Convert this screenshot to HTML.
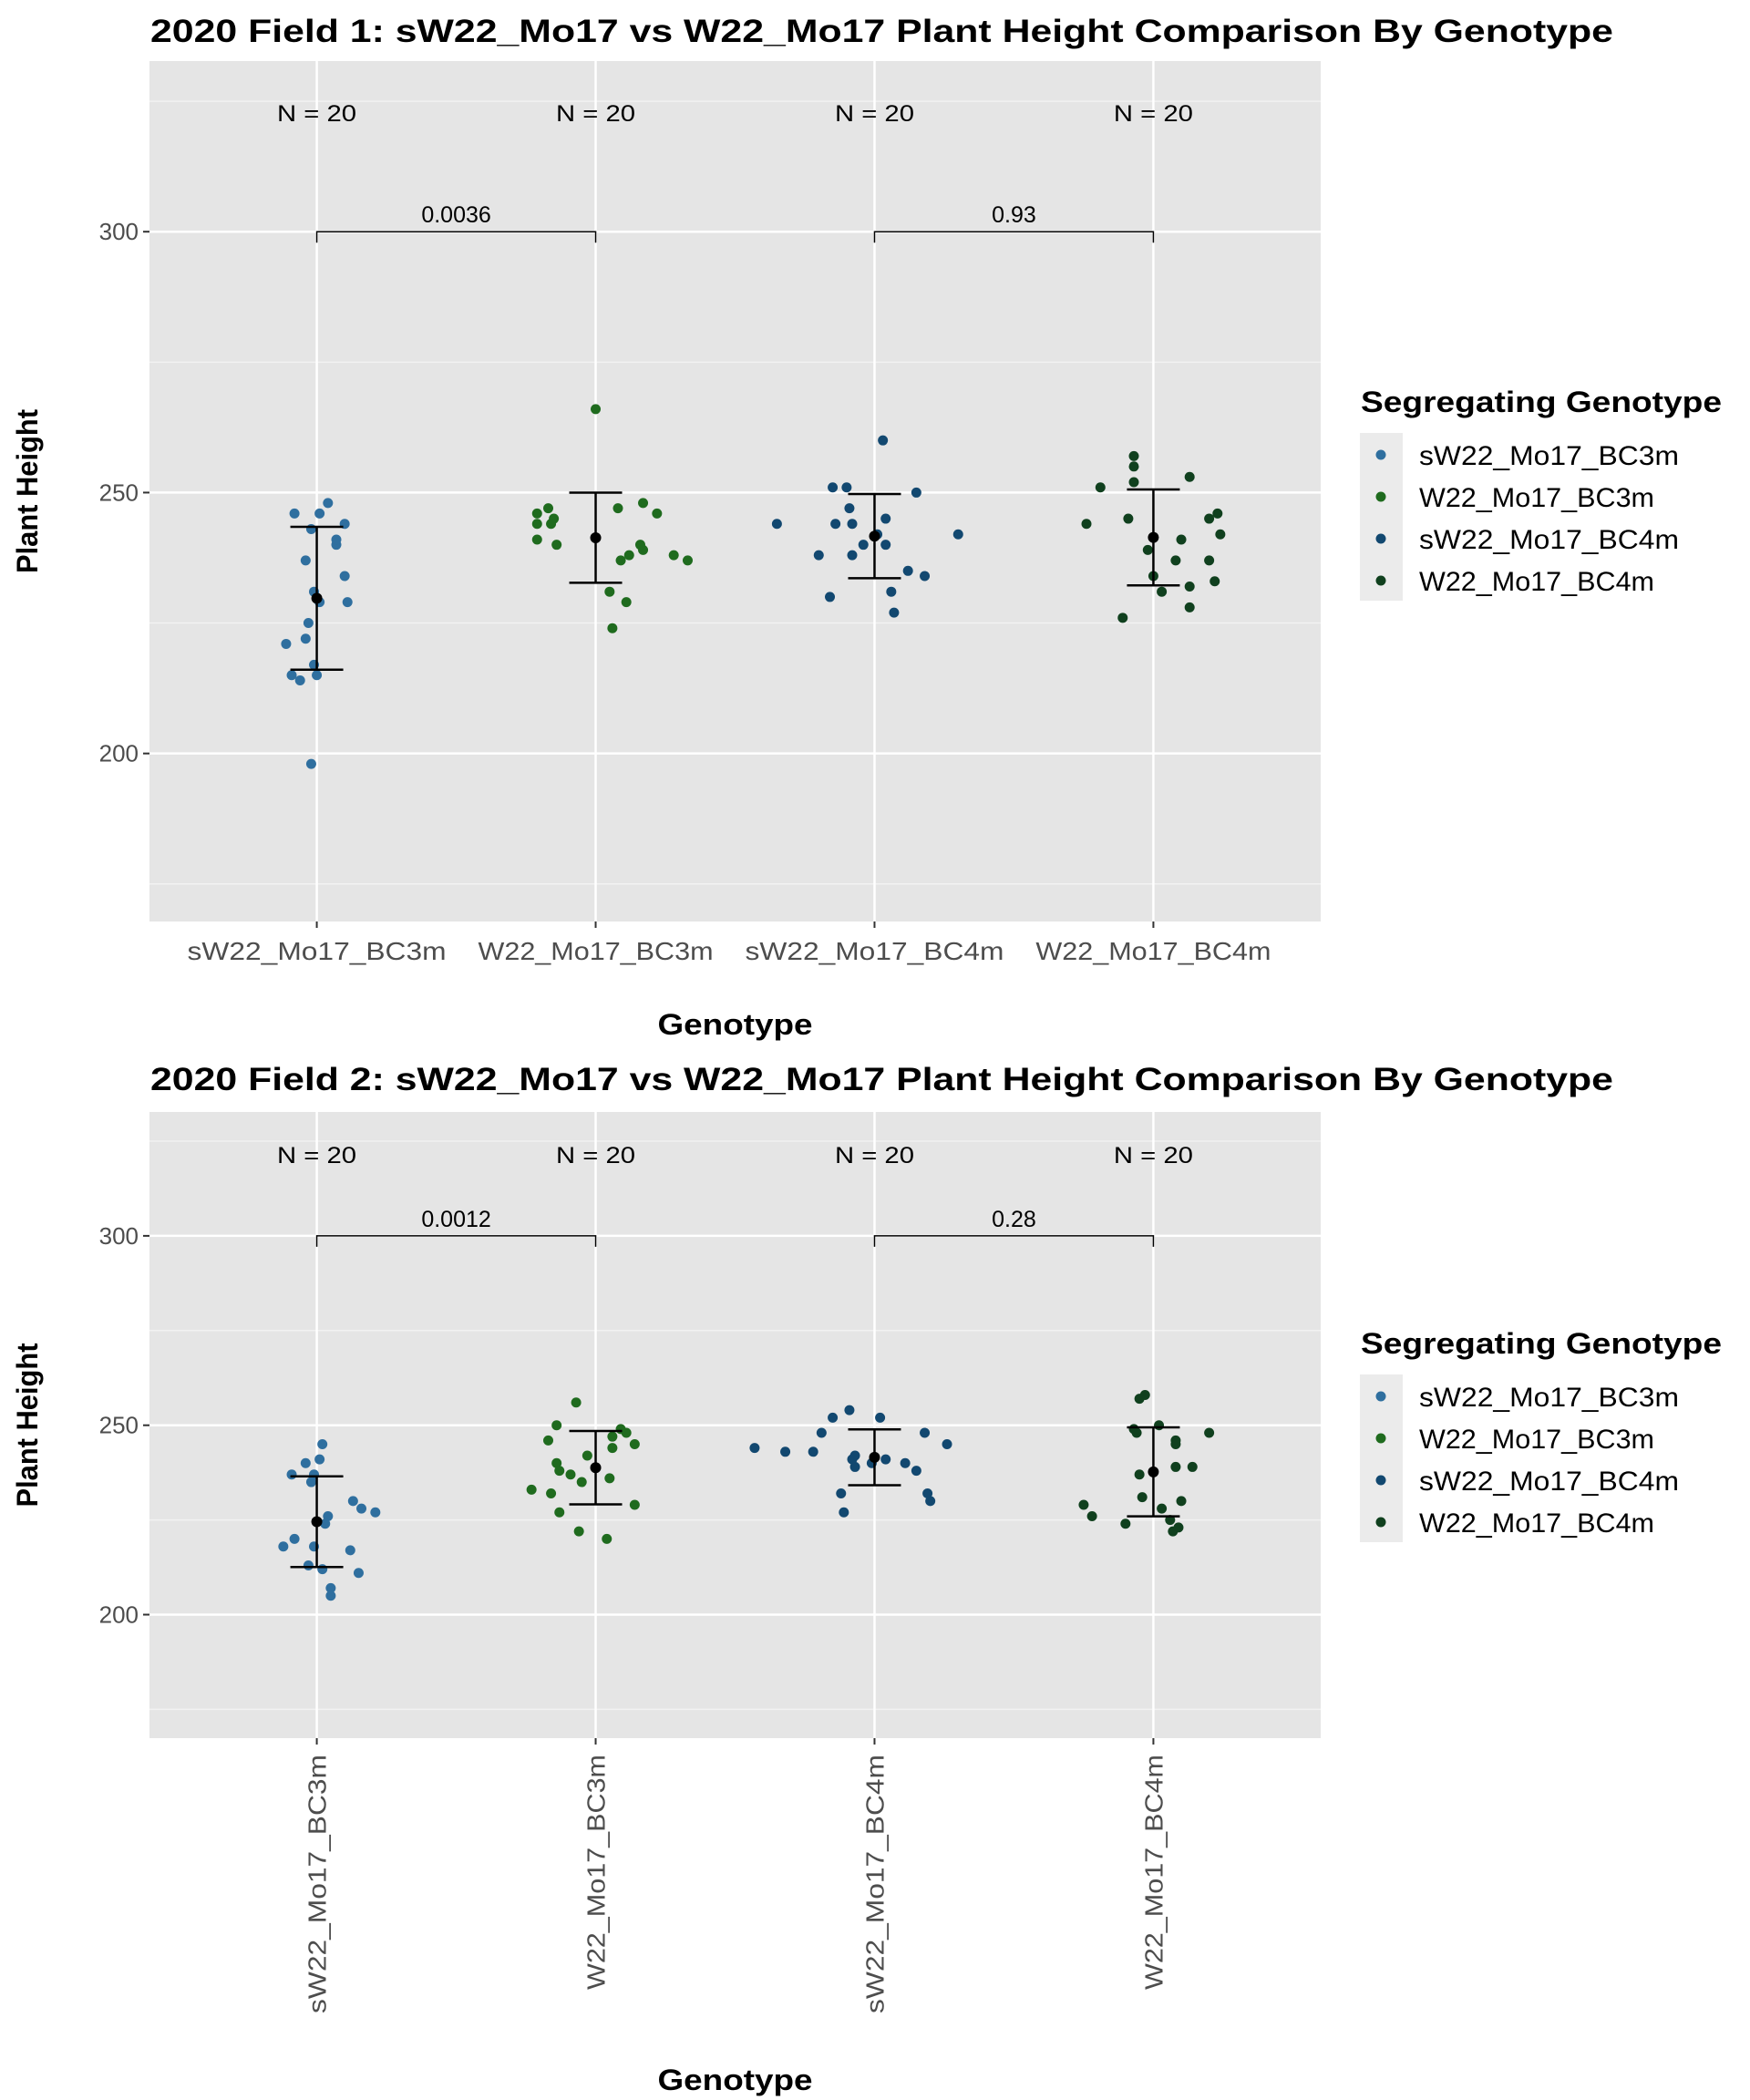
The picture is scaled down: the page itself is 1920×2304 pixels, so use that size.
<!DOCTYPE html>
<html><head><meta charset="utf-8"><style>
html,body{margin:0;padding:0;background:#fff;}
svg{display:block;font-family:"Liberation Sans",Arial,sans-serif;}
</style></head><body>
<svg id="chart" width="1920" height="2304" viewBox="0 0 1920 2304" xmlns="http://www.w3.org/2000/svg"></svg>
<script>
const categories = ["sW22_Mo17_BC3m","W22_Mo17_BC3m","sW22_Mo17_BC4m","W22_Mo17_BC4m"];
const colors = ["#2F6F9F","#1F6B1E","#124870","#10401E"];
const yTicks = [200,250,300];
const yMinor = [175,225,275,325];
const pvals1 = ["0.0036","0.93"];
const pvals2 = ["0.0012","0.28"];
const nLabels = ["N = 20","N = 20","N = 20","N = 20"];
// Field 1 values per genotype
const f1_g1 = [246,246,248,243,244,240,241,237,234,231,229,229,225,222,221,217,215,214,215,198];
const f1_g1j = [-0.08,0.01,0.04,-0.02,0.10,0.07,0.07,-0.04,0.10,-0.01,0.01,0.11,-0.03,-0.04,-0.11,-0.01,-0.09,-0.06,0.00,-0.02];
const f1_g2 = [266,247,246,244,245,241,240,247,248,246,239,240,238,237,238,237,231,229,224,244];
const f1_g2j = [0.00,-0.17,-0.21,-0.21,-0.15,-0.21,-0.14,0.08,0.17,0.22,0.17,0.16,0.12,0.09,0.28,0.33,0.05,0.11,0.06,-0.16];
const f1_g3 = [260,251,251,250,247,244,244,244,242,242,245,240,238,238,235,234,231,230,227,240];
const f1_g3j = [0.03,-0.15,-0.10,0.15,-0.09,-0.35,-0.14,-0.08,0.01,0.30,0.04,-0.04,-0.20,-0.08,0.12,0.18,0.06,-0.16,0.07,0.04];
const f1_g4 = [257,255,252,251,253,245,244,246,245,242,241,239,237,237,234,233,232,231,228,226];
const f1_g4j = [-0.07,-0.07,-0.07,-0.19,0.13,-0.09,-0.24,0.23,0.20,0.24,0.10,-0.02,0.08,0.20,0.00,0.22,0.13,0.03,0.13,-0.11];
// Field 2 values per genotype
const f2_g1 = [245,241,240,237,237,235,230,228,227,226,224,220,218,218,217,213,212,211,207,205];
const f2_g1j = [0.02,0.01,-0.04,-0.09,-0.01,-0.02,0.13,0.16,0.21,0.04,0.03,-0.08,-0.12,-0.01,0.12,-0.03,0.02,0.15,0.05,0.05];
const f2_g2 = [256,250,249,248,247,246,245,244,242,240,238,237,236,235,233,232,229,227,222,220];
const f2_g2j = [-0.07,-0.14,0.09,0.11,0.06,-0.17,0.14,0.06,-0.03,-0.14,-0.13,-0.09,0.05,-0.05,-0.23,-0.16,0.14,-0.13,-0.06,0.04];
const f2_g3 = [254,252,252,248,248,245,244,243,243,242,241,241,240,240,238,232,232,230,227,239];
const f2_g3j = [-0.09,-0.15,0.02,-0.19,0.18,0.26,-0.43,-0.22,-0.32,-0.07,-0.08,0.04,-0.01,0.11,0.15,-0.12,0.19,0.20,-0.11,-0.07];
const f2_g4 = [258,257,250,249,248,248,246,245,239,239,237,231,230,229,228,226,225,224,223,222];
const f2_g4j = [-0.03,-0.05,0.02,-0.07,0.20,-0.06,0.08,0.08,0.14,0.08,-0.05,-0.04,0.10,-0.25,0.03,-0.22,0.06,-0.10,0.09,0.07];

const NS="http://www.w3.org/2000/svg";
const svg=document.getElementById('chart');
function mk(tag,attrs,parent,text){const e=document.createElementNS(NS,tag);for(const k in attrs)e.setAttribute(k,attrs[k]);if(text!==undefined)e.textContent=text;(parent||svg).appendChild(e);return e;}
function mean(a){return a.reduce((s,v)=>s+v,0)/a.length;}
function sd(a){const m=mean(a);return Math.sqrt(a.reduce((s,v)=>s+(v-m)*(v-m),0)/(a.length-1));}

function panel(cfg){
  const g=mk('g',{});
  
  
  const L=164,R=1449,T=cfg.top,B=cfg.bottom;
  const ys=v=>T+(cfg.ymax-v)/(cfg.ymax-cfg.ymin)*(B-T);
  const step=(R-L)/4.2;
  const xs=i=>L+step*(i+0.6);
  const t=mk('text',{x:165,y:cfg.titleY,'font-size':35,'font-weight':'bold',fill:'#000',textLength:1605,lengthAdjust:'spacingAndGlyphs'},g,cfg.title);
  
  const bg=mk('rect',{x:L,y:T,width:R-L,height:B-T,fill:'#E5E5E5'},g);
  
  yMinor.forEach(v=>{const y=ys(v);if(y>T&&y<B){const l=mk('line',{x1:L,x2:R,y1:y,y2:y,stroke:'#F2F2F2','stroke-width':1.5},g);}});
  yTicks.forEach(v=>{const y=ys(v);
    const l=mk('line',{x1:L,x2:R,y1:y,y2:y,stroke:'#fff','stroke-width':2.5},g);
    mk('line',{x1:L-7,x2:L,y1:y,y2:y,stroke:'#333','stroke-width':2},g);
    const tx=mk('text',{x:L-12,y:y+9,'font-size':26,fill:'#4D4D4D','text-anchor':'end'},g,String(v));
    
  });
  categories.forEach((c,i)=>{const x=xs(i);
    const l=mk('line',{x1:x,x2:x,y1:T,y2:B,stroke:'#fff','stroke-width':2.5},g);
    mk('line',{x1:x,x2:x,y1:B,y2:B+7,stroke:'#333','stroke-width':2},g);
    const tl=c.startsWith('s')?284:258;
    let tx;
    if(cfg.rot){tx=mk('text',{x:0,y:0,'font-size':28,fill:'#4D4D4D','text-anchor':'end',textLength:tl,lengthAdjust:'spacingAndGlyphs',transform:`translate(${x+10},${B+18}) rotate(-90)`},g,c);}
    else{tx=mk('text',{x:x,y:B+42,'font-size':28,fill:'#4D4D4D','text-anchor':'middle',textLength:tl,lengthAdjust:'spacingAndGlyphs'},g,c);}
    
    const n=mk('text',{x:x,y:cfg.nY,'font-size':25,fill:'#000','text-anchor':'middle',textLength:87,lengthAdjust:'spacingAndGlyphs'},g,nLabels[i]);
    
  });
  [[0,1],[2,3]].forEach((p,k)=>{const y=ys(300),x1=xs(p[0]),x2=xs(p[1]);
    const b=mk('path',{d:`M${x1},${y+12}V${y}H${x2}V${y+12}`,fill:'none',stroke:'#000','stroke-width':1.5},g);
    
    const pt=mk('text',{x:(x1+x2)/2,y:y-10,'font-size':25,fill:'#000','text-anchor':'middle'},g,cfg.pvals[k]);
    
  });
  cfg.data.forEach((arr,i)=>{const jit=cfg.jit[i];
    arr.forEach((v,j)=>{const c=mk('circle',{cx:xs(i)+jit[j]*step,cy:ys(v),r:5.5,fill:colors[i]},g);
      });
    const m=mean(arr),s=sd(arr),x=xs(i);
    const e=mk('path',{d:`M${x-29},${ys(m+s)}H${x+29}M${x},${ys(m+s)}V${ys(m-s)}M${x-29},${ys(m-s)}H${x+29}`,stroke:'#000','stroke-width':2.5,fill:'none'},g);
    
    const md=mk('circle',{cx:x,cy:ys(m),r:6,fill:'#000'},g);
    
  });
  const yt=mk('text',{x:0,y:0,'font-size':32,'font-weight':'bold',fill:'#000','text-anchor':'middle',textLength:180,lengthAdjust:'spacingAndGlyphs',transform:`translate(41,${(T+B)/2}) rotate(-90)`},g,'Plant Height');
  
  const xt=mk('text',{x:(L+R)/2,y:cfg.xTitleY,'font-size':32,'font-weight':'bold',fill:'#000','text-anchor':'middle',textLength:170,lengthAdjust:'spacingAndGlyphs'},g,'Genotype');
  
  const lg=mk('g',{},g);
  const lt=mk('text',{x:1493,y:cfg.legY,'font-size':32,'font-weight':'bold',fill:'#000',textLength:396,lengthAdjust:'spacingAndGlyphs'},lg,'Segregating Genotype');
  
  mk('rect',{x:1492,y:cfg.legY+23,width:47,height:184,fill:'#EBEBEB'},lg);
  categories.forEach((c,i)=>{const cy=cfg.legY+47+i*46;
    const e=mk('g',{},lg);
    mk('circle',{cx:1515,cy:cy,r:5.5,fill:colors[i]},e);
    mk('text',{x:1557,y:cy+11,'font-size':30,fill:'#000',textLength:c.startsWith('s')?285:258,lengthAdjust:'spacingAndGlyphs'},e,c);
  });
}
panel({name:'field-1-panel',title:'2020 Field 1: sW22_Mo17 vs W22_Mo17 Plant Height Comparison By Genotype',titleY:46,top:67,bottom:1011,ymin:167.8,ymax:332.7,nY:133,xTitleY:1135,legY:452,rot:false,pvals:pvals1,
  data:[f1_g1,f1_g2,f1_g3,f1_g4],jit:[f1_g1j,f1_g2j,f1_g3j,f1_g4j]});
panel({name:'field-2-panel',title:'2020 Field 2: sW22_Mo17 vs W22_Mo17 Plant Height Comparison By Genotype',titleY:1196,top:1220,bottom:1907,ymin:167.4,ymax:332.7,nY:1276,xTitleY:2293,legY:1485,rot:true,pvals:pvals2,
  data:[f2_g1,f2_g2,f2_g3,f2_g4],jit:[f2_g1j,f2_g2j,f2_g3j,f2_g4j]});
</script>
</body></html>
